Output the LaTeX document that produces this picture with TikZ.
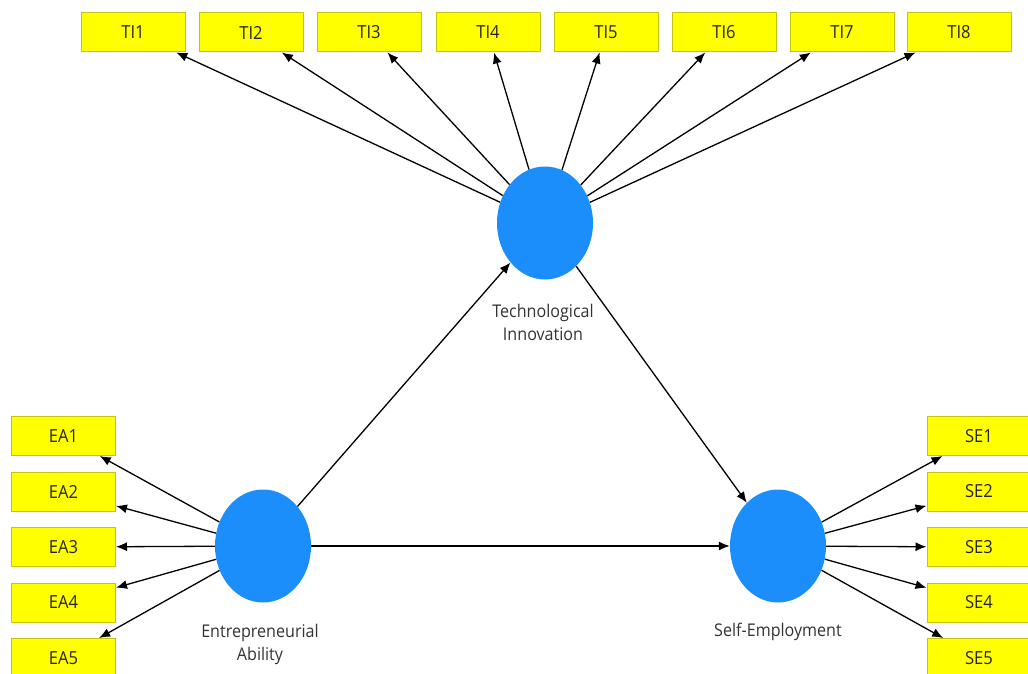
\documentclass[tikz,border=0pt]{standalone}
\usepackage{fontspec}
\setmainfont[FakeStretch=0.92]{Open Sans}
\usetikzlibrary{arrows.meta,shapes.geometric}
\definecolor{boxfill}{RGB}{255,255,0}
\definecolor{boxdraw}{RGB}{196,196,20}
\definecolor{lv}{RGB}{28,142,252}
\tikzset{
  ind/.style={draw=boxdraw, fill=boxfill, line width=1pt, minimum width=104pt, minimum height=39pt, inner sep=0pt, font=\fontsize{18}{21}\selectfont, text=black!85},
  latent/.style={ellipse, fill=lv, minimum width=96pt, minimum height=113pt, inner sep=0pt},
  lbl/.style={align=center, font=\fontsize{17.5}{23}\selectfont, text=black!80},
  arr/.style={line width=1.3pt, -{Latex[length=11pt,width=9pt]}},
}
\begin{document}
\begin{tikzpicture}[x=1pt,y=-1pt]
\useasboundingbox (0,0) rectangle (1028,674);
\fill[white] (0,0) rectangle (1028,674);
% latent variables
\node[latent] (TI) at (545,223) {};
\node[latent] (EA) at (263,546) {};
\node[latent] (SE) at (778,546) {};
% labels
\node[lbl] (TIl) at (543,322) {Technological\\Innovation};
\node[lbl] (EAl) at (260,644) {Entrepreneurial\\Ability};
\node[lbl] (SEl) at (778,632) {Self-Employment};
% TI indicators
\node[ind] (TI1) at (133,32.5) {TI1};
\node[ind] (TI2) at (251,32.5) {TI2};
\node[ind] (TI3) at (369,32.5) {TI3};
\node[ind] (TI4) at (488,32.5) {TI4};
\node[ind] (TI5) at (606,32.5) {TI5};
\node[ind] (TI6) at (724,32.5) {TI6};
\node[ind] (TI7) at (842,32.5) {TI7};
\node[ind] (TI8) at (959,32.5) {TI8};
% EA indicators
\node[ind] (EA1) at (63.5,436) {EA1};
\node[ind] (EA2) at (63.5,491.5) {EA2};
\node[ind] (EA3) at (63.5,547) {EA3};
\node[ind] (EA4) at (63.5,602.5) {EA4};
\node[ind] (EA5) at (63.5,658) {EA5};
% SE indicators
\node[ind] (SE1) at (979,436) {SE1};
\node[ind] (SE2) at (979,491.5) {SE2};
\node[ind] (SE3) at (979,547) {SE3};
\node[ind] (SE4) at (979,602.5) {SE4};
\node[ind] (SE5) at (979,658) {SE5};
% outer arrows
\foreach \i in {1,...,8} \draw[arr] (TI) -- (TI\i);
\foreach \i in {1,...,5} \draw[arr] (EA) -- (EA\i);
\foreach \i in {1,...,5} \draw[arr] (SE) -- (SE\i);
% structural paths
\draw[arr] (EA) -- (TI);
\draw[arr] (TI) -- (SE);
\draw[arr] (EA) -- (SE);
\end{tikzpicture}
\end{document}
